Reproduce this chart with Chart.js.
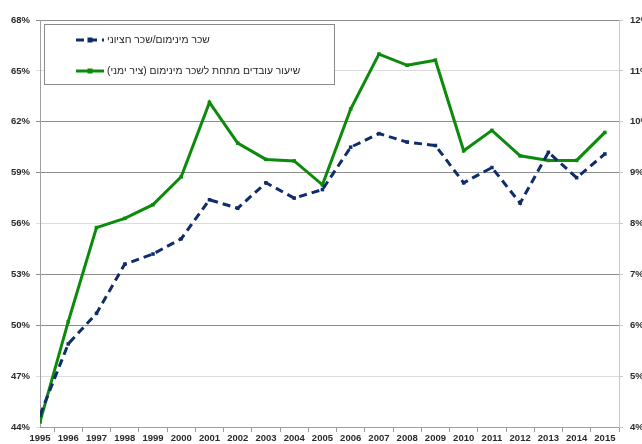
<!DOCTYPE html>
<html>
<head>
<meta charset="utf-8">
<script src="https://cdn.jsdelivr.net/npm/chart.js@4.4.1/dist/chart.umd.min.js"></script>
<style>
  html, body { margin: 0; padding: 0; background: #fff; }
</style>
</head>
<body>
<canvas id="chart" width="642" height="444"></canvas>
<script>
// data
const years = [1995, 1996, 1997, 1998, 1999, 2000, 2001, 2002, 2003, 2004, 2005,
               2006, 2007, 2008, 2009, 2010, 2011, 2012, 2013, 2014, 2015];
// left axis, %
const minToMedian = [44.7, 48.9, 50.7, 53.6, 54.2, 55.1, 57.4, 56.9, 58.4, 57.5, 58.0,
                     60.5, 61.3, 60.8, 60.6, 58.4, 59.3, 57.2, 60.2, 58.7, 60.1];
// right axis, %
const belowMinShare = [4.1, 6.07, 7.92, 8.1, 8.37, 8.92, 10.38, 9.58, 9.26, 9.23, 8.76,
                       10.25, 11.33, 11.11, 11.21, 9.43, 9.83, 9.33, 9.24, 9.24, 9.79];
const seriesNames = ['שכר מינימום/שכר חציוני', 'שיעור עובדים מתחת לשכר מינימום (ציר ימני)'];
const leftTicks = [44, 47, 50, 53, 56, 59, 62, 65, 68];
const rightTicks = [4, 5, 6, 7, 8, 9, 10, 11, 12];

const BLUE = '#0f2d6b';
const GREEN = '#0b8a0b';
const tickFont = { family: '"Liberation Sans", Arial, sans-serif', size: 9.5, weight: 'bold' };
const darkGrid = [68, 62, 59, 53, 50];

// legend drawn as a boxed panel inside the plot, like the original
const legendBox = {
    id: 'legendBox',
    afterDatasetsDraw(chart) {
        const ctx = chart.ctx;
        ctx.save();
        ctx.fillStyle = '#fff';
        ctx.fillRect(44.5, 24.5, 290, 60);
        ctx.strokeStyle = '#8a8a8a';
        ctx.lineWidth = 1;
        ctx.strokeRect(44.5, 24.5, 290, 60);
        chart.data.datasets.forEach((ds, i) => {
            const y = 40 + i * 31;
            ctx.strokeStyle = ds.borderColor;
            ctx.lineWidth = 3;
            ctx.setLineDash(ds.borderDash || []);
            ctx.beginPath();
            ctx.moveTo(76, y);
            ctx.lineTo(104, y);
            ctx.stroke();
            ctx.setLineDash([]);
            ctx.fillStyle = ds.borderColor;
            ctx.fillRect(87.5, y - 2.5, 5, 5);
            ctx.direction = 'rtl';
            ctx.textAlign = 'left';
            ctx.textBaseline = 'middle';
            ctx.font = '10.3px "Liberation Sans", Arial, sans-serif';
            ctx.fillStyle = '#262626';
            ctx.fillText(ds.label, 107, y);
        });
        ctx.restore();
    }
};

new Chart(document.getElementById('chart'), {
    type: 'line',
    data: {
        datasets: [{
            label: seriesNames[0],
            data: years.map((y, i) => ({ x: y, y: minToMedian[i] })),
            yAxisID: 'y',
            borderColor: BLUE,
            backgroundColor: BLUE,
            borderWidth: 3,
            borderDash: [8, 5],
            pointStyle: 'rect',
            pointRadius: 2.5,
            pointBorderWidth: 0,
            tension: 0
        }, {
            label: seriesNames[1],
            data: years.map((y, i) => ({ x: y, y: belowMinShare[i] })),
            yAxisID: 'y2',
            borderColor: GREEN,
            backgroundColor: GREEN,
            borderWidth: 3,
            pointStyle: 'rect',
            pointRadius: 2.5,
            pointBorderWidth: 0,
            tension: 0
        }]
    },
    options: {
        responsive: false,
        animation: false,
        devicePixelRatio: 1,
        layout: { padding: { top: 20, left: 0, right: 0, bottom: 0 } },
        plugins: { legend: { display: false }, tooltip: { enabled: false } },
        scales: {
            x: {
                type: 'linear',
                min: 1995,
                max: 2015.5,
                afterBuildTicks: axis => {
                    const t = [];
                    years.forEach(y => { t.push({ value: y }); t.push({ value: y + 0.5 }); });
                    axis.ticks = t;
                },
                afterFit: axis => { axis.height = 17; },
                ticks: {
                    autoSkip: false,
                    maxRotation: 0,
                    padding: 1,
                    color: '#2b2b2b',
                    font: tickFont,
                    callback: v => Number.isInteger(v) ? String(v) : ''
                },
                grid: {
                    drawOnChartArea: false,
                    tickLength: 5,
                    color: c => (c.tick && Number.isInteger(c.tick.value)) ? 'rgba(0,0,0,0)' : '#9a9a9a'
                },
                border: { color: '#a0a0a0' }
            },
            y: {
                position: 'left',
                min: 44,
                max: 68,
                afterBuildTicks: axis => { axis.ticks = leftTicks.map(v => ({ value: v })); },
                afterFit: axis => { axis.width = 40; },
                ticks: {
                    padding: 6,
                    color: '#2b2b2b',
                    font: tickFont,
                    callback: v => v + '%'
                },
                grid: {
                    tickLength: 4,
                    color: c => darkGrid.includes(c.tick.value) ? '#8c8c8c' : '#dcdcdc'
                },
                border: { color: '#a0a0a0' }
            },
            y2: {
                position: 'right',
                min: 4,
                max: 12,
                afterBuildTicks: axis => { axis.ticks = rightTicks.map(v => ({ value: v })); },
                afterFit: axis => { axis.width = 23; },
                ticks: {
                    padding: 7,
                    color: '#2b2b2b',
                    font: tickFont,
                    callback: v => v + '%'
                },
                grid: { drawOnChartArea: false, tickLength: 4, color: '#c8c8c8' },
                border: { color: '#c8c8c8' }
            }
        }
    },
    plugins: [legendBox]
});
</script>
</body>
</html>
